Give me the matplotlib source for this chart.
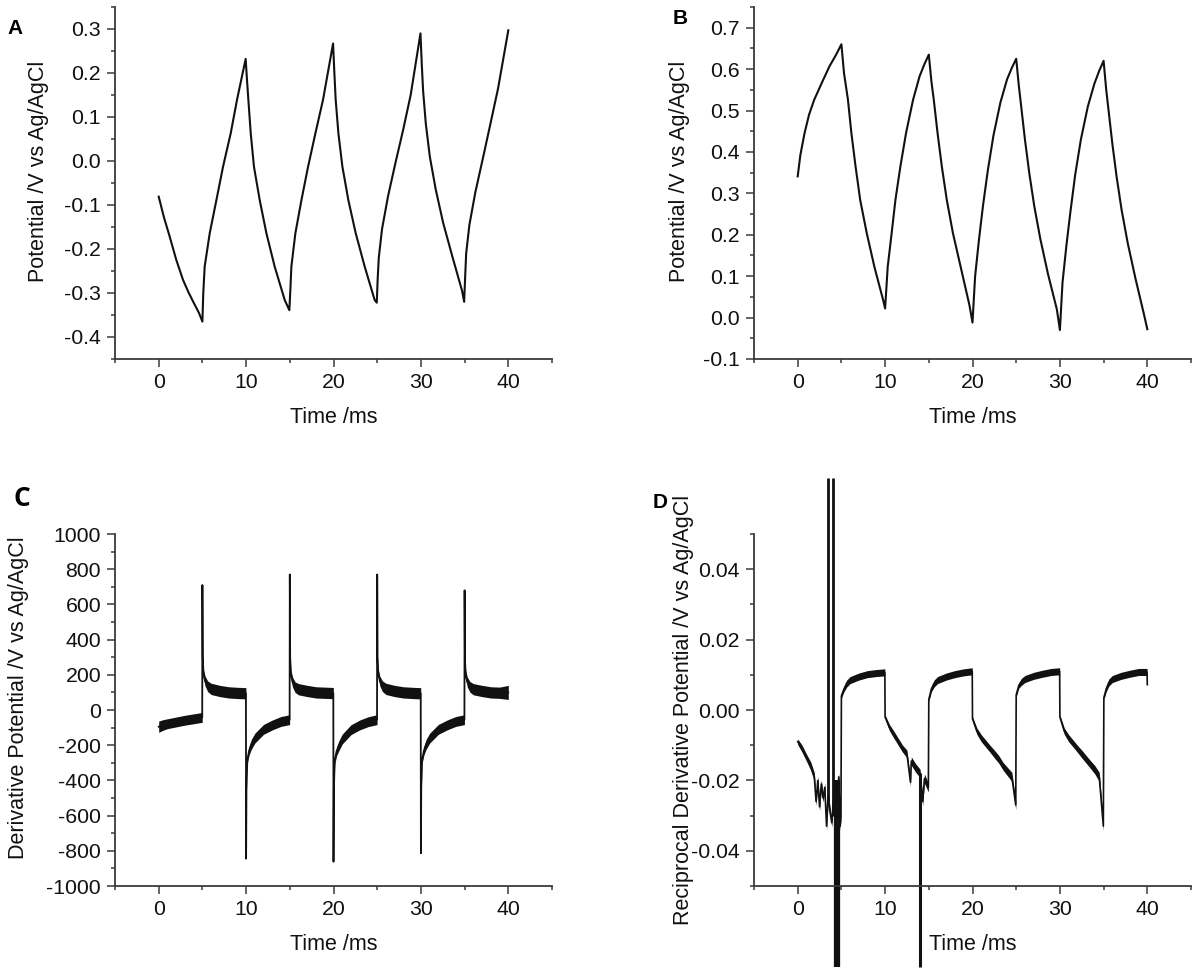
import matplotlib
matplotlib.use("Agg")
import matplotlib.pyplot as plt
from matplotlib.ticker import MultipleLocator
import numpy as np

plt.rcParams['font.family'] = ['Liberation Sans', 'DejaVu Sans']
plt.rcParams['axes.unicode_minus'] = False

# ---------------- Data ----------------
# Panel A: potential (V) vs time (ms)
a_t = [0, 0.6, 1.26, 2.0, 2.78, 3.4, 4.0, 4.6, 5.0,
       5.1, 5.26, 5.84, 6.6, 7.36, 8.24, 8.96, 9.95,
       10.1, 10.26, 10.53, 10.9, 11.56, 12.32, 13.27, 14.42, 14.95,
       15.07, 15.18, 15.64, 16.33, 17.09, 17.93, 18.8, 19.95,
       20.1, 20.25, 20.56, 21.02, 21.7, 22.54, 23.57, 24.71, 24.95,
       25.05, 25.18, 25.55, 26.24, 27.08, 27.96, 28.83, 29.95,
       30.1, 30.25, 30.56, 31.02, 31.7, 32.54, 33.57, 34.71, 34.95,
       35.05, 35.18, 35.55, 36.24, 37.08, 37.96, 38.83, 40.0]
a_v = [-0.081, -0.128, -0.172, -0.224, -0.27, -0.298, -0.322, -0.345, -0.365,
       -0.3, -0.24, -0.164, -0.089, -0.013, 0.063, 0.139, 0.232,
       0.185, 0.139, 0.063, -0.013, -0.089, -0.164, -0.24, -0.316, -0.339,
       -0.29, -0.24, -0.164, -0.089, -0.013, 0.063, 0.139, 0.267,
       0.2, 0.139, 0.063, -0.013, -0.089, -0.164, -0.24, -0.316, -0.322,
       -0.27, -0.22, -0.155, -0.08, -0.005, 0.07, 0.15, 0.29,
       0.22, 0.16, 0.085, 0.01, -0.065, -0.14, -0.215, -0.295, -0.32,
       -0.27, -0.21, -0.145, -0.07, 0.005, 0.085, 0.165, 0.297]

# Panel B
b_t = [0, 0.3, 0.79, 1.3, 1.89, 2.76, 3.64, 4.4, 5.0,
       5.3, 5.75, 6.14, 6.62, 7.15, 7.9, 8.77, 9.78, 10.0,
       10.3, 10.75, 11.18, 11.75, 12.4, 13.2, 13.95, 14.5, 15.0,
       15.3, 15.57, 16.0, 16.49, 17.06, 17.76, 18.64, 19.65, 20.0,
       20.3, 20.75, 21.2, 21.75, 22.4, 23.2, 23.95, 24.5, 25.0,
       25.3, 25.57, 26.0, 26.49, 27.06, 27.76, 28.64, 29.65, 30.0,
       30.3, 30.75, 31.2, 31.75, 32.4, 33.2, 33.95, 34.5, 35.0,
       35.3, 35.57, 36.0, 36.49, 37.06, 37.76, 38.64, 39.65, 40.0]
b_v = [0.341, 0.392, 0.446, 0.49, 0.526, 0.567, 0.607, 0.635, 0.66,
       0.59, 0.526, 0.446, 0.365, 0.284, 0.204, 0.123, 0.042, 0.022,
       0.123, 0.204, 0.284, 0.365, 0.446, 0.526, 0.583, 0.612, 0.635,
       0.57, 0.526, 0.446, 0.365, 0.284, 0.204, 0.123, 0.03, -0.012,
       0.1, 0.19, 0.27, 0.355, 0.44, 0.52, 0.575, 0.603, 0.625,
       0.56, 0.51, 0.43, 0.35, 0.27, 0.19, 0.105, 0.02, -0.03,
       0.085, 0.175, 0.255, 0.345, 0.43, 0.51, 0.565, 0.596, 0.62,
       0.55, 0.5, 0.42, 0.34, 0.26, 0.18, 0.095, 0.005, -0.028]

# Panel C: derivative, centre line and noise half-width
c_t = [0, 0.5, 1, 2, 3, 4, 4.98,
       5.0, 5.04, 5.12, 5.3, 5.6, 6, 7, 8, 9, 9.98,
       10.0, 10.04, 10.14, 10.35, 10.6, 11, 12, 13, 14, 14.98,
       15.0, 15.04, 15.12, 15.3, 15.6, 16, 17, 18, 19, 19.98,
       20.0, 20.04, 20.14, 20.35, 20.6, 21, 22, 23, 24, 24.98,
       25.0, 25.04, 25.12, 25.3, 25.6, 26, 27, 28, 29, 29.98,
       30.0, 30.04, 30.14, 30.35, 30.6, 31, 32, 33, 34, 34.98,
       35.0, 35.04, 35.12, 35.3, 35.6, 36, 37, 38, 39, 40.0]
c_mid = [-95, -85, -78, -68, -58, -50, -42,
         710, 300, 210, 165, 135, 120, 108, 100, 97, 95,
         -845, -450, -284, -230, -195, -160, -110, -85, -65, -55,
         770, 300, 210, 160, 130, 118, 108, 100, 98, 96,
         -862, -450, -290, -235, -205, -165, -112, -85, -66, -55,
         770, 300, 210, 165, 135, 120, 108, 100, 97, 95,
         -814, -440, -284, -230, -195, -160, -110, -85, -65, -55,
         680, 290, 205, 160, 132, 118, 108, 100, 98, 100]
c_hw = [32, 30, 28, 28, 28, 28, 28,
        0, 10, 22, 28, 30, 32, 32, 32, 32, 32,
        0, 10, 18, 25, 28, 28, 28, 28, 28, 28,
        0, 10, 22, 28, 30, 32, 32, 32, 32, 32,
        0, 10, 18, 25, 28, 28, 28, 28, 28, 28,
        0, 10, 22, 28, 30, 32, 32, 32, 32, 32,
        0, 10, 18, 25, 28, 28, 28, 28, 28, 28,
        0, 10, 22, 28, 30, 32, 32, 32, 32, 40]

# Panel D: reciprocal derivative, centre line and noise half-width
d_t = [0, 0.5, 1, 1.5, 1.9, 2.1, 2.3, 2.5, 2.7, 2.9, 3.1, 3.3, 3.5, 3.7, 3.9,
       4.1, 4.3, 4.5, 4.7, 4.85, 4.95,
       5.0, 5.3, 5.6, 6, 7, 8, 9, 9.97,
       10.0, 10.5, 11, 11.5, 12, 12.5, 12.9, 13.0, 13.5, 14, 14.3, 14.5, 14.95,
       15.0, 15.3, 15.6, 16, 17, 18, 19, 19.97,
       20.0, 20.5, 21, 21.5, 22, 22.5, 23, 23.5, 24, 24.5, 24.95,
       25.0, 25.3, 25.6, 26, 27, 28, 29, 29.97,
       30.0, 30.5, 31, 31.5, 32, 32.5, 33, 33.5, 34, 34.5, 34.97,
       35.03, 35.3, 35.6, 36, 37, 38, 39, 39.97, 40.0]
d_mid = [-0.009, -0.011, -0.0135, -0.016, -0.019, -0.026, -0.020, -0.0275, -0.021, -0.025,
         -0.022, -0.033, -0.024, -0.029, -0.032, -0.025, -0.030, -0.026, -0.019, -0.033, -0.030,
         0.004, 0.006, 0.0075, 0.0085, 0.0095, 0.0102, 0.0105, 0.0107,
         -0.002, -0.005, -0.007, -0.009, -0.011, -0.0125, -0.0205, -0.0145, -0.0165, -0.018, -0.026, -0.0195, -0.022,
         0.003, 0.006, 0.0075, 0.0085, 0.0095, 0.0102, 0.0107, 0.011,
         -0.0025, -0.006, -0.008, -0.0095, -0.011, -0.0125, -0.014, -0.016, -0.0175, -0.019, -0.027,
         0.0043, 0.007, 0.008, 0.0088, 0.0097, 0.0103, 0.0108, 0.011,
         -0.002, -0.006, -0.008, -0.0095, -0.011, -0.0125, -0.014, -0.0155, -0.017, -0.019, -0.033,
         0.0035, 0.006, 0.0078, 0.0088, 0.0097, 0.0103, 0.0108, 0.0108, 0.0072]
d_hw = [0.0008, 0.001, 0.001, 0.0012, 0.0012, 0.0012, 0.0012, 0.0012, 0.0012, 0.0012,
        0.0012, 0.0012, 0.0012, 0.0012, 0.0012, 0.0012, 0.0012, 0.0012, 0.0012, 0.0012, 0.0012,
        0.0006, 0.0008, 0.001, 0.001, 0.001, 0.001, 0.001, 0.001,
        0.0006, 0.0009, 0.001, 0.001, 0.001, 0.0011, 0.0011, 0.0012, 0.0012, 0.0012, 0.0012, 0.0013, 0.0013,
        0.0006, 0.0008, 0.001, 0.001, 0.001, 0.001, 0.001, 0.001,
        0.0006, 0.0009, 0.001, 0.001, 0.001, 0.0011, 0.0011, 0.0011, 0.0012, 0.0013, 0.0013,
        0.0006, 0.0008, 0.001, 0.001, 0.001, 0.001, 0.001, 0.001,
        0.0006, 0.0009, 0.001, 0.001, 0.001, 0.0011, 0.0011, 0.0011, 0.0012, 0.0013, 0.0013,
        0.0006, 0.0008, 0.001, 0.001, 0.001, 0.001, 0.001, 0.001, 0.0004]
# large out-of-range excursions in D (time, top, bottom)
d_spike_t = [3.5, 4.0, 4.55, 14.0]
d_spike_top = [0.066, 0.066, -0.020, -0.018]
d_spike_bot = [-0.026, -0.030, -0.073, -0.073]

# Ticks
x_ticks = [0, 10, 20, 30, 40]
a_yticks = [-0.4, -0.3, -0.2, -0.1, 0.0, 0.1, 0.2, 0.3]
a_ylabels = ['-0.4', '-0.3', '-0.2', '-0.1', '0.0', '0.1', '0.2', '0.3']
b_yticks = [-0.1, 0.0, 0.1, 0.2, 0.3, 0.4, 0.5, 0.6, 0.7]
b_ylabels = ['-0.1', '0.0', '0.1', '0.2', '0.3', '0.4', '0.5', '0.6', '0.7']
c_yticks = [-1000, -800, -600, -400, -200, 0, 200, 400, 600, 800, 1000]
c_ylabels = ['-1000', '-800', '-600', '-400', '-200', '0', '200', '400', '600', '800', '1000']
d_yticks = [-0.04, -0.02, 0.0, 0.02, 0.04]
d_ylabels = ['-0.04', '-0.02', '0.00', '0.02', '0.04']

# ---------------- Figure ----------------
W, H = 1200, 975
fig = plt.figure(figsize=(W / 100, H / 100), dpi=100)

def box(l, t, r, b):
    return [l / W, 1 - b / H, (r - l) / W, (b - t) / H]

axA = fig.add_axes(box(115, 7, 552, 359))
axB = fig.add_axes(box(754, 7, 1191, 359))
axC = fig.add_axes(box(115, 534, 552, 886))
axD = fig.add_axes(box(754, 534, 1191, 886))

spine_col = '#3a3a3a'
line_col = '#111111'
FS_TICK = 15.3
FS_LAB = 15.5

def style(ax, yticks, ylabels, ylim, yminor, ylabel, lab_x, lab_y):
    for s in ['top', 'right']:
        ax.spines[s].set_visible(False)
    for s in ['left', 'bottom']:
        ax.spines[s].set_color(spine_col)
        ax.spines[s].set_linewidth(1.3)
    ax.set_xlim(-5, 45)
    ax.set_ylim(*ylim)
    ax.set_xticks(x_ticks)
    ax.set_xticklabels([str(v) for v in x_ticks])
    ax.xaxis.set_minor_locator(MultipleLocator(5))
    ax.set_yticks(yticks)
    ax.set_yticklabels(ylabels)
    ax.yaxis.set_minor_locator(MultipleLocator(yminor))
    ax.tick_params(which='both', direction='out', color=spine_col, width=1.1,
                   labelsize=FS_TICK, labelcolor='#111111')
    ax.tick_params(which='major', length=5.5, pad=4.5)
    ax.tick_params(which='minor', length=3)
    ax.set_xlabel('Time /ms', fontsize=FS_LAB, color='#111111', labelpad=11)
    ax.set_ylabel(ylabel, fontsize=FS_LAB, color='#111111')
    ax.yaxis.set_label_coords(lab_x, lab_y)

style(axA, a_yticks, a_ylabels, (-0.45, 0.35), 0.05, 'Potential /V vs Ag/AgCl', -0.15, 0.533)
style(axB, b_yticks, b_ylabels, (-0.1, 0.75), 0.05, 'Potential /V vs Ag/AgCl', -0.146, 0.533)
style(axC, c_yticks, c_ylabels, (-1000, 1000), 100, 'Derivative Potential /V vs Ag/AgCl', -0.196, 0.534)
style(axD, d_yticks, d_ylabels, (-0.05, 0.05), 0.01, 'Reciprocal Derivative Potential /V vs Ag/AgCl', -0.137, 0.5)

axA.plot(a_t, a_v, color=line_col, lw=1.5)
axB.plot(b_t, b_v, color=line_col, lw=1.5)

c_mid_a = np.array(c_mid, dtype=float)
c_hw_a = np.array(c_hw, dtype=float)
axC.fill_between(c_t, c_mid_a - c_hw_a, c_mid_a + c_hw_a, color=line_col, lw=0)
axC.plot(c_t, c_mid, color=line_col, lw=1.3)

d_mid_a = np.array(d_mid, dtype=float)
d_hw_a = np.array(d_hw, dtype=float)
axD.fill_between(d_t, d_mid_a - d_hw_a, d_mid_a + d_hw_a, color=line_col, lw=0)
axD.plot(d_t, d_mid, color=line_col, lw=1.2)
spike_w = [2.0, 2.0, 4.5, 2.2]
for st, top, bot, w in zip(d_spike_t, d_spike_top, d_spike_bot, spike_w):
    axD.plot([st, st], [bot, top], color=line_col, lw=w, clip_on=False,
             solid_capstyle='butt')

# Panel letters
fig.text(15 / W, 1 - 29 / H, 'A', fontsize=15, fontweight='bold', ha='center', va='center')
fig.text(680 / W, 1 - 18 / H, 'B', fontsize=15, fontweight='bold', ha='center', va='center')
fig.text(22 / W, 1 - 499 / H, 'C', fontsize=19, fontweight='bold', ha='center', va='center',
         family=['Open Sans', 'DejaVu Sans'])
fig.text(660 / W, 1 - 502 / H, 'D', fontsize=15, fontweight='bold', ha='center', va='center')

fig.savefig('out.png', dpi=100)
